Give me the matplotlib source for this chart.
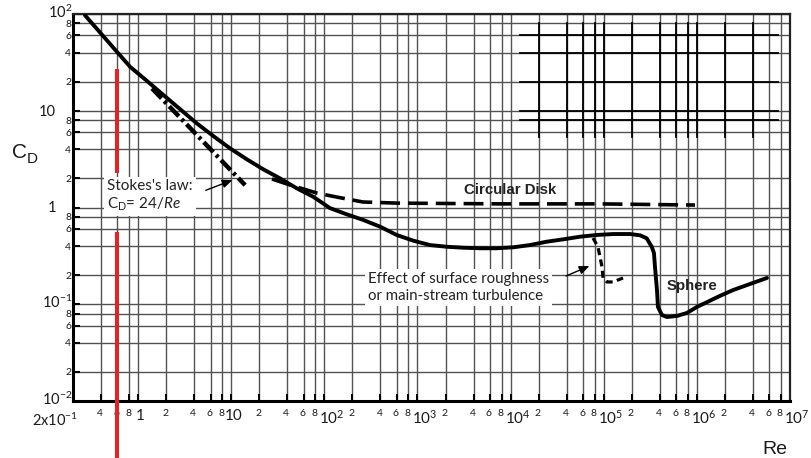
import numpy as np
import matplotlib
matplotlib.use("Agg")
import matplotlib.pyplot as plt

plt.rcParams["mathtext.fontset"] = "custom"
plt.rcParams["mathtext.rm"] = "Lato"
plt.rcParams["mathtext.it"] = "Lato:italic"
plt.rcParams["font.family"] = ["Lato", "DejaVu Sans"]

# ---- data -------------------------------------------------------------
# Sphere drag curve (Re, C_D)
sphere_re = [0.269, 0.819, 1.24, 1.86, 2.82, 4.26, 6.42, 9.70, 14.7, 22.1, 33.4,
             50.5, 76.1, 115, 174, 262, 396, 598, 902, 1362, 2060, 3100, 4690,
             7090, 10700, 16100, 24400, 36800, 55600, 84000, 127000, 191000,
             245000, 289000, 327000, 346000, 355000, 373000, 382000, 422000,
             477000, 611000, 783000, 1.0e6, 1.29e6, 1.77e6, 2.44e6, 3.72e6,
             5.66e6]
sphere_cd = [97, 28.5, 20.4, 14.6, 10.4, 7.42, 5.48, 4.09, 3.15, 2.48, 2.00,
             1.58, 1.29, 0.985, 0.85, 0.743, 0.634, 0.520, 0.454, 0.409, 0.393,
             0.384, 0.379, 0.379, 0.388, 0.409, 0.443, 0.469, 0.499, 0.520,
             0.532, 0.532, 0.516, 0.481, 0.394, 0.339, 0.243, 0.140, 0.0938,
             0.0774, 0.0738, 0.0757, 0.0813, 0.0937, 0.1054, 0.122, 0.140,
             0.162, 0.187]

# Circular disk drag curve
disk_re = [27.4, 42.8, 83.4, 137, 260, 603, 7690, 91200, 955000]
disk_cd = [1.97, 1.71, 1.41, 1.28, 1.14, 1.11, 1.09, 1.09, 1.06]

# Early transition caused by roughness / free-stream turbulence
rough_re = [76700, 86700, 91200, 95800, 98200, 108000, 126000, 161000]
rough_cd = [0.484, 0.391, 0.308, 0.243, 0.187, 0.170, 0.170, 0.187]

# Stokes's law range, C_D = 24/Re
stokes_re = np.array([1.41, 14.1])
stokes_cd = 24.0 / stokes_re

# Marker line at Re = 0.6
marker_re = 0.6

# Grid / tick values
x_grid = [m * 10.0 ** k for k in range(-1, 7) for m in (1, 2, 4, 6, 8)
          if 0.2 <= m * 10.0 ** k <= 1e7] + [1e7]
y_grid = [m * 10.0 ** k for k in range(-2, 2) for m in (1, 2, 4, 6, 8)] + [100]
x_decades = [1, 10, 100, 1e3, 1e4, 1e5, 1e6, 1e7]
x_decade_labels = ["1", "10", r"$\mathregular{10^{2}}$", r"$\mathregular{10^{3}}$",
                   r"$\mathregular{10^{4}}$", r"$\mathregular{10^{5}}$",
                   r"$\mathregular{10^{6}}$", r"$\mathregular{10^{7}}$"]
y_decades = [0.01, 0.1, 1, 10, 100]
y_decade_labels = [r"$\mathregular{10^{-2}}$", r"$\mathregular{10^{-1}}$", "1", "10",
                   r"$\mathregular{10^{2}}$"]
minor_mults = [2, 4, 6, 8]

# dark overdrawn grid block in the upper right
dark_x = [2e4, 4e4, 6e4, 8e4, 1e5, 2e5, 4e5, 6e5, 8e5, 1e6, 2e6, 4e6]
dark_y = [60, 40, 20, 10, 8]

# ---- figure -----------------------------------------------------------
W, H = 811, 458
fig = plt.figure(figsize=(W / 100, H / 100), dpi=100)
ax = fig.add_axes([73 / W, 1 - 401 / H, (790 - 73) / W, (401 - 14) / H])
ax.set_xscale("log")
ax.set_yscale("log")
ax.set_xlim(0.2, 1e7)
ax.set_ylim(0.01, 100)

px = 0.72  # points per pixel at 100 dpi

grid_col = "#525252"
for v in x_grid:
    ax.axvline(v, color=grid_col, lw=1.0, zorder=1)
for v in y_grid:
    ax.axhline(v, color=grid_col, lw=1.0, zorder=1)

for v in dark_x:
    ax.plot([v, v], [5.35, 80.7], color="black", lw=1.3, zorder=1.5)
for v in dark_y:
    ax.plot([12600, 7.5e6], [v, v], color="black", lw=1.3, zorder=1.5)

ax.set_xticks(x_grid)
ax.set_yticks(y_grid)
ax.set_xticks([], minor=True)
ax.set_yticks([], minor=True)
ax.set_xticklabels([])
ax.set_yticklabels([])
ax.tick_params(which="both", direction="in", length=5, width=1.4, color="black")

for s in ax.spines.values():
    s.set_linewidth(1.6)
    s.set_color("#222222")
ax.spines["left"].set_linewidth(2.2)
ax.spines["bottom"].set_linewidth(2.2)
ax.spines["left"].set_color("black")
ax.spines["bottom"].set_color("black")

# ---- curves -----------------------------------------------------------
ax.plot(sphere_re, sphere_cd, color="black", lw=2.8, solid_joinstyle="round",
        solid_capstyle="round", zorder=5)
ax.plot(disk_re, disk_cd, color="black", lw=2.6, dashes=(5.5, 2.2), zorder=5)
ax.plot(rough_re, rough_cd, color="black", lw=2.3, dashes=(2.2, 1.4), zorder=5)
ax.plot(stokes_re, stokes_cd, color="black", lw=3.2,
        dashes=(3.1, 0.9, 0.7, 0.9), zorder=4)

# red marker line, broken around the Stokes label
red = "#d42a2a"
ax.plot([marker_re, marker_re], [27, 2.27], color=red, lw=3.0, zorder=6,
        solid_capstyle="butt")
ax.plot([marker_re, marker_re], [0.558, 0.0025], color=red, lw=3.0, zorder=6,
        solid_capstyle="butt", clip_on=False)

# ---- annotations ------------------------------------------------------
ax.text(0.464, 1.32, "Stokes's law:\nC$_\\mathregular{D}$= 24/$\\mathit{Re}$",
        ha="left", va="center", fontsize=11, linespacing=1.2, zorder=7,
        color="#222222",
        bbox=dict(boxstyle="square,pad=0.2", fc="white", ec="none"))
ax.annotate("", xy=(11.0, 1.97), xytext=(5.0, 1.47),
            arrowprops=dict(arrowstyle="-|>,head_length=0.6,head_width=0.25",
                            color="black", lw=1.0), zorder=7)

ax.text(294, 0.149, "Effect of surface roughness\nor main-stream turbulence",
        ha="left", va="center", fontsize=10.8, linespacing=1.25, zorder=7,
        color="#222222",
        bbox=dict(boxstyle="square,pad=0.2", fc="white", ec="none"))
ax.annotate("", xy=(74800, 0.255), xytext=(37000, 0.191),
            arrowprops=dict(arrowstyle="-|>,head_length=0.6,head_width=0.25",
                            color="black", lw=1.0), zorder=7)

ax.text(9980, 1.52, "Circular Disk", ha="center", va="center", fontsize=10.8,
        fontweight="bold", family="Liberation Sans", color="#222222", zorder=7)
ax.text(885000, 0.1545, "Sphere", ha="center", va="center", fontsize=10.8,
        fontweight="bold", family="Liberation Sans", color="#222222", zorder=7)

# ---- tick labels ------------------------------------------------------
lab_col = "#1a1a1a"
for k in range(-1, 7):
    for m in minor_mults:
        v = m * 10.0 ** k
        if 0.2 < v < 1e7:
            ax.annotate(str(m), xy=(v, 0), xycoords=("data", "axes fraction"),
                        xytext=(-1 * px, -13 * px), textcoords="offset points",
                        ha="center", va="center", fontsize=7.5, color=lab_col)
for v, lab in zip(x_decades, x_decade_labels):
    dx = 2 if v < 100 else 7
    ax.annotate(lab, xy=(v, 0), xycoords=("data", "axes fraction"),
                xytext=(dx * px, -8 * px), textcoords="offset points",
                ha="center", va="top", fontsize=11, color=lab_col)
ax.annotate(r"$\mathregular{2x10^{-1}}$", xy=(0, 0), xycoords="axes fraction",
            xytext=(5 * px, -11 * px), textcoords="offset points",
            ha="right", va="top", fontsize=10.5, color=lab_col)

for k in range(-2, 2):
    for m in minor_mults:
        v = m * 10.0 ** k
        ax.annotate(str(m), xy=(0, v), xycoords=("axes fraction", "data"),
                    xytext=(-5 * px, -1 * px), textcoords="offset points",
                    ha="center", va="center", fontsize=7.5, color=lab_col)
for v, lab in zip(y_decades, y_decade_labels):
    if lab in ("1", "10"):
        ax.annotate(lab, xy=(0, v), xycoords=("axes fraction", "data"),
                    xytext=(-17 * px, -1 * px), textcoords="offset points",
                    ha="right", va="center", fontsize=10.5, color=lab_col)
    else:
        ax.annotate(lab, xy=(0, v), xycoords=("axes fraction", "data"),
                    xytext=(-1 * px, -4 * px), textcoords="offset points",
                    ha="right", va="baseline", fontsize=10.5, color=lab_col)

fig.text(12 / W, 1 - 153 / H, "C", fontsize=15, family="Liberation Sans",
         ha="left", va="center", color=lab_col)
fig.text(27 / W, 1 - 159 / H, "D", fontsize=11, family="Liberation Sans",
         ha="left", va="center", color=lab_col)
fig.text(775 / W, 1 - 449 / H, "Re", fontsize=14, family="Liberation Sans",
         ha="center", va="center", color=lab_col)

fig.savefig("out.png", dpi=100)
